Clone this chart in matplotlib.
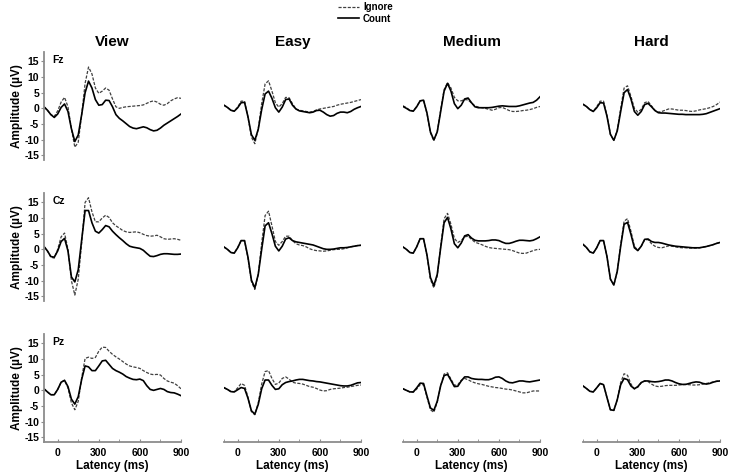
import numpy as np
import matplotlib
matplotlib.use("Agg")
import matplotlib.pyplot as plt

plt.rcParams['font.family'] = ['Liberation Sans', 'DejaVu Sans']
plt.rcParams['font.weight'] = 'bold'
plt.rcParams['axes.unicode_minus'] = False

# latency axis, 25 ms steps
times = np.arange(-100, 901, 25)

conditions = ['View', 'Easy', 'Medium', 'Hard']
electrodes = ['Fz', 'Cz', 'Pz']

# (electrode, condition) -> (Ignore, Count), in microvolts
fz_view_ign = [0.5, -0.6, -2.0, -2.6, -0.8, 2.0, 3.5, 0.5, -6.5, -12.4, -10.8, -2.0, 8.0, 13.2, 11.0, 6.5, 4.8, 5.5, 6.5, 5.8, 3.0, 0.5, 0.0, 0.3, 0.5, 0.6, 0.7, 0.8, 0.9, 1.1, 1.6, 2.1, 2.4, 2.0, 1.3, 1.0, 1.5, 2.4, 3.0, 3.4, 3.2]
fz_view_cnt = [0.5, -0.6, -2.0, -2.9, -1.8, 0.3, 1.4, -1.0, -6.5, -10.6, -8.5, -2.0, 5.0, 8.7, 6.5, 2.8, 1.0, 1.2, 2.6, 2.5, 0.5, -2.0, -3.2, -4.0, -4.9, -5.8, -6.3, -6.5, -6.2, -5.9, -6.2, -6.8, -7.2, -7.0, -6.3, -5.4, -4.7, -4.0, -3.3, -2.6, -1.8]
fz_easy_ign = [1.0, 0.3, -0.6, -0.9, 0.4, 2.3, 2.3, -2.8, -9.2, -11.3, -6.5, 1.5, 7.8, 8.8, 5.5, 1.8, 0.4, 1.5, 3.5, 3.4, 1.5, -0.2, -0.6, -0.8, -1.0, -1.2, -1.0, -0.5, -0.2, 0.0, 0.2, 0.4, 0.6, 1.0, 1.3, 1.5, 1.7, 1.9, 2.2, 2.5, 2.8]
fz_easy_cnt = [1.0, 0.3, -0.6, -0.9, 0.2, 1.8, 1.9, -2.7, -8.4, -10.2, -6.7, -0.4, 4.6, 5.5, 3.2, 0.2, -1.2, 0.4, 2.8, 3.0, 1.0, -0.2, -0.8, -1.0, -1.2, -1.4, -1.2, -0.7, -0.6, -1.2, -2.0, -2.5, -2.3, -1.6, -1.2, -1.2, -1.4, -1.0, -0.3, 0.2, 0.6]
fz_med_ign = [0.8, 0.2, -0.6, -0.8, 0.6, 2.4, 2.6, -1.6, -7.8, -10.3, -7.5, -0.5, 6.0, 8.2, 6.5, 3.5, 2.4, 2.4, 2.8, 2.7, 1.7, 0.8, 0.4, 0.2, 0.0, -0.3, -0.6, -0.3, 0.2, 0.3, -0.2, -0.7, -1.0, -1.0, -0.9, -0.7, -0.6, -0.4, -0.1, 0.3, 0.6]
fz_med_cnt = [0.6, 0.0, -0.7, -0.9, 0.5, 2.4, 2.6, -1.5, -7.5, -10.1, -7.5, -1.0, 5.5, 8.0, 5.5, 1.5, -0.1, 1.0, 3.0, 3.3, 1.8, 0.5, 0.2, 0.2, 0.2, 0.2, 0.3, 0.5, 0.7, 0.8, 0.7, 0.6, 0.6, 0.6, 0.8, 1.1, 1.4, 1.7, 1.9, 2.6, 3.7]
fz_hard_ign = [1.3, 0.6, -0.4, -0.9, 0.5, 2.3, 2.3, -2.3, -8.3, -10.3, -7.0, 0.0, 6.5, 7.2, 3.8, 0.0, -1.2, -0.3, 1.8, 2.2, 0.8, -0.6, -1.2, -1.0, -0.6, -0.2, -0.2, -0.4, -0.6, -0.6, -0.7, -0.9, -1.0, -0.8, -0.5, -0.3, -0.1, 0.2, 0.6, 1.2, 2.0]
fz_hard_cnt = [1.3, 0.6, -0.4, -1.0, 0.2, 1.8, 1.7, -2.5, -8.3, -10.2, -7.2, -1.0, 5.0, 6.0, 3.0, -1.0, -2.2, -1.0, 1.2, 1.6, 0.5, -0.7, -1.4, -1.5, -1.5, -1.6, -1.7, -1.8, -1.9, -1.9, -2.0, -2.0, -2.0, -2.0, -2.0, -1.9, -1.7, -1.3, -0.9, -0.5, -0.1]

cz_view_ign = [0.9, -0.5, -2.5, -2.8, 0.0, 4.0, 5.2, 0.0, -10.0, -14.6, -9.5, 2.0, 15.0, 16.5, 12.0, 8.8, 8.8, 10.0, 10.9, 10.2, 8.5, 7.5, 6.8, 6.0, 5.6, 5.4, 5.5, 5.6, 5.3, 4.8, 4.4, 4.2, 4.3, 4.5, 4.0, 3.4, 3.2, 3.3, 3.4, 3.2, 2.9]
cz_view_cnt = [0.9, -0.5, -2.3, -2.5, -0.5, 2.5, 3.5, -0.5, -8.8, -10.4, -6.5, 3.0, 12.4, 12.4, 8.5, 5.8, 5.2, 6.3, 7.6, 7.2, 5.8, 4.7, 3.7, 2.8, 1.8, 1.0, 0.7, 0.5, 0.3, -0.3, -1.3, -2.2, -2.3, -2.0, -1.6, -1.4, -1.4, -1.5, -1.6, -1.6, -1.5]
cz_easy_ign = [0.75, 0.0, -1.0, -1.2, 0.6, 2.8, 2.7, -2.8, -10.3, -12.8, -8.0, 2.0, 10.8, 12.2, 7.5, 2.5, 1.3, 2.5, 4.2, 4.2, 2.8, 1.8, 1.4, 1.2, 0.8, 0.2, -0.2, -0.4, -0.5, -0.6, -0.5, -0.3, -0.1, 0.0, 0.0, 0.2, 0.5, 0.8, 1.0, 1.2, 1.3]
cz_easy_cnt = [0.75, 0.0, -1.0, -1.2, 0.5, 2.8, 2.8, -2.5, -9.8, -12.3, -8.0, 0.0, 7.5, 8.5, 5.0, 1.0, -0.5, 1.0, 3.3, 3.7, 2.8, 2.4, 2.2, 2.0, 1.8, 1.6, 1.4, 1.0, 0.6, 0.2, 0.0, 0.0, 0.1, 0.3, 0.5, 0.5, 0.6, 0.8, 1.0, 1.2, 1.3]
cz_med_ign = [0.75, 0.0, -1.0, -1.2, 0.8, 3.4, 3.4, -2.0, -9.6, -12.3, -8.5, 1.0, 9.8, 11.5, 8.0, 3.5, 2.2, 2.8, 4.0, 4.2, 3.2, 2.3, 1.9, 1.5, 1.0, 0.6, 0.4, 0.3, 0.2, 0.1, 0.0, -0.1, -0.4, -0.8, -1.2, -1.3, -1.2, -0.8, -0.4, -0.1, 0.0]
cz_med_cnt = [0.75, 0.0, -1.0, -1.2, 0.8, 3.4, 3.4, -1.8, -9.0, -11.6, -8.0, 0.5, 8.5, 10.2, 6.5, 1.8, 0.5, 2.0, 4.3, 4.7, 3.6, 2.9, 2.7, 2.7, 2.7, 2.8, 3.0, 3.0, 2.8, 2.3, 1.9, 1.9, 2.2, 2.6, 2.9, 2.9, 2.8, 2.7, 2.9, 3.4, 4.0]
cz_hard_ign = [1.6, 0.6, -0.8, -1.2, 0.5, 2.8, 2.8, -2.3, -9.5, -11.4, -7.0, 1.5, 9.0, 9.8, 5.8, 1.0, -0.3, 1.0, 3.0, 3.1, 1.8, 1.0, 0.6, 0.5, 0.8, 1.1, 1.0, 0.8, 0.6, 0.5, 0.5, 0.4, 0.4, 0.4, 0.5, 0.7, 0.9, 1.2, 1.5, 1.9, 2.2]
cz_hard_cnt = [1.6, 0.6, -0.8, -1.2, 0.5, 2.8, 2.8, -2.3, -9.5, -11.4, -7.0, 1.0, 8.0, 8.6, 4.8, 0.5, -0.4, 1.0, 3.2, 3.3, 2.5, 2.2, 2.2, 2.0, 1.7, 1.4, 1.2, 1.0, 0.9, 0.8, 0.7, 0.6, 0.5, 0.5, 0.5, 0.7, 0.9, 1.2, 1.5, 1.9, 2.2]

pz_view_ign = [0.5, -0.5, -1.4, -1.4, 0.3, 2.6, 3.2, 0.8, -4.0, -6.2, -3.5, 4.0, 10.2, 10.6, 10.2, 10.5, 12.5, 13.8, 13.7, 12.5, 11.5, 10.7, 10.0, 9.2, 8.4, 7.8, 7.5, 7.3, 7.0, 6.3, 5.7, 5.2, 5.0, 5.1, 4.9, 3.8, 3.0, 2.6, 2.3, 1.5, 0.5]
pz_view_cnt = [0.5, -0.5, -1.4, -1.4, 0.3, 2.6, 3.2, 1.2, -2.8, -4.4, -2.0, 3.5, 7.8, 7.5, 6.3, 6.3, 7.8, 9.4, 9.6, 8.3, 7.0, 6.3, 5.8, 5.2, 4.4, 3.9, 3.5, 3.4, 3.6, 3.1, 1.5, 0.3, 0.0, 0.3, 0.6, 0.3, -0.4, -0.7, -0.8, -1.2, -1.7]
pz_easy_ign = [0.85, 0.3, -0.4, -0.4, 0.8, 2.2, 1.6, -2.2, -6.8, -7.8, -4.0, 2.0, 6.0, 6.3, 3.8, 1.9, 2.3, 3.8, 4.3, 3.6, 2.6, 2.3, 2.2, 2.0, 1.6, 1.2, 1.0, 0.6, 0.1, -0.2, -0.1, 0.3, 0.5, 0.6, 0.7, 0.9, 1.0, 1.2, 1.4, 1.6, 1.7]
pz_easy_cnt = [0.85, 0.3, -0.4, -0.5, 0.2, 0.9, 0.6, -2.5, -6.5, -7.6, -4.5, 0.5, 3.3, 3.3, 1.6, 0.3, 0.5, 1.8, 2.5, 2.8, 3.0, 3.3, 3.5, 3.5, 3.3, 3.1, 3.0, 2.8, 2.7, 2.5, 2.3, 2.1, 1.9, 1.7, 1.5, 1.4, 1.4, 1.6, 2.0, 2.4, 2.5]
pz_med_ign = [0.5, 0.0, -0.5, -0.6, 0.4, 1.8, 1.8, -2.2, -6.2, -7.0, -3.8, 1.5, 5.2, 5.6, 3.6, 1.6, 1.8, 3.2, 3.8, 3.4, 2.8, 2.4, 2.1, 1.9, 1.6, 1.3, 1.1, 0.9, 0.8, 0.6, 0.4, 0.3, 0.1, -0.2, -0.5, -0.8, -0.8, -0.5, -0.2, -0.2, -0.2]
pz_med_cnt = [0.5, 0.0, -0.5, -0.5, 0.8, 2.3, 2.2, -1.8, -5.6, -6.4, -3.5, 1.5, 4.7, 5.1, 3.2, 1.2, 1.3, 3.0, 4.3, 4.3, 3.8, 3.6, 3.5, 3.5, 3.4, 3.4, 3.7, 4.2, 4.3, 3.8, 3.0, 2.5, 2.4, 2.7, 3.0, 3.0, 2.8, 2.7, 2.9, 3.1, 3.3]
pz_hard_ign = [1.4, 0.6, -0.3, -0.5, 0.8, 2.2, 1.8, -2.3, -6.2, -6.4, -3.0, 2.5, 5.3, 4.8, 2.0, 0.5, 1.0, 2.4, 3.0, 2.8, 2.0, 1.4, 1.2, 1.3, 1.5, 1.6, 1.6, 1.6, 1.7, 1.8, 1.9, 1.8, 1.7, 1.7, 1.8, 2.0, 2.2, 2.4, 2.7, 2.9, 3.0]
pz_hard_cnt = [1.4, 0.6, -0.3, -0.5, 0.8, 2.2, 1.8, -2.3, -6.2, -6.4, -3.0, 1.8, 3.8, 3.4, 1.4, 0.5, 1.2, 2.5, 3.0, 3.0, 2.8, 2.7, 2.8, 3.0, 3.3, 3.3, 3.0, 2.5, 2.1, 1.9, 1.9, 2.2, 2.5, 2.7, 2.6, 2.2, 2.0, 2.2, 2.6, 2.9, 3.0]

waves = {
    ('Fz', 'View'): (fz_view_ign, fz_view_cnt),
    ('Fz', 'Easy'): (fz_easy_ign, fz_easy_cnt),
    ('Fz', 'Medium'): (fz_med_ign, fz_med_cnt),
    ('Fz', 'Hard'): (fz_hard_ign, fz_hard_cnt),
    ('Cz', 'View'): (cz_view_ign, cz_view_cnt),
    ('Cz', 'Easy'): (cz_easy_ign, cz_easy_cnt),
    ('Cz', 'Medium'): (cz_med_ign, cz_med_cnt),
    ('Cz', 'Hard'): (cz_hard_ign, cz_hard_cnt),
    ('Pz', 'View'): (pz_view_ign, pz_view_cnt),
    ('Pz', 'Easy'): (pz_easy_ign, pz_easy_cnt),
    ('Pz', 'Medium'): (pz_med_ign, pz_med_cnt),
    ('Pz', 'Hard'): (pz_hard_ign, pz_hard_cnt),
}

W, H = 735, 475
fig = plt.figure(figsize=(W/100, H/100), dpi=100)

col_left = [44, 224, 403, 583]
row_top = [52, 193, 334]
ax_w, ax_h = 137, 108
spine_col = '#8c8c8c'

for r, el in enumerate(electrodes):
    for c, cond in enumerate(conditions):
        ax = fig.add_axes([col_left[c]/W, 1 - (row_top[r] + ax_h)/H, ax_w/W, ax_h/H])
        ign, cnt = waves[(el, cond)]
        ax.plot(times, ign, color='#404040', lw=0.9, ls=(0, (2.5, 1.2)), label='Ignore')
        ax.plot(times, cnt, color='black', lw=1.2, label='Count')
        ax.set_xlim(-100, 900)
        ax.set_ylim(-16.5, 18)
        for s in ['top', 'right']:
            ax.spines[s].set_visible(False)
        if c == 0:
            ax.spines['left'].set_color(spine_col)
            ax.spines['left'].set_linewidth(1.3)
            ax.set_yticks([-15, -10, -5, 0, 5, 10, 15])
            ax.tick_params(axis='y', labelsize=7.5, length=2, color=spine_col, pad=1.5)
            ax.set_ylabel('Amplitude (µV)', fontsize=8.5, fontweight='bold', labelpad=1)
            ax.text(0.06, 0.97, el, transform=ax.transAxes, fontsize=7.5,
                    fontweight='bold', va='top', ha='left')
        else:
            ax.spines['left'].set_visible(False)
            ax.set_yticks([])
        if r == 2:
            ax.spines['bottom'].set_color(spine_col)
            ax.spines['bottom'].set_linewidth(1.3)
            ax.set_xticks([0, 300, 600, 900])
            ax.set_xticks([-100, 150, 450, 750], minor=True)
            ax.tick_params(axis='x', which='both', labelsize=7.5, length=2,
                           color=spine_col, direction='in', pad=4)
            ax.set_xlabel('Latency (ms)', fontsize=8.5, fontweight='bold', labelpad=2)
        else:
            ax.spines['bottom'].set_visible(False)
            ax.set_xticks([])
        if r == 0:
            ax.set_title(cond, fontsize=11, fontweight='bold', pad=4)
        if r == 0 and c == 0:
            handles, labels = ax.get_legend_handles_labels()

fig.legend(handles, labels, loc='upper center', bbox_to_anchor=(0.497, 1.01),
           frameon=False, fontsize=7, handlelength=2.2, handletextpad=0.4,
           labelspacing=0.15, borderpad=0.2)

fig.savefig('out.png', dpi=100)
